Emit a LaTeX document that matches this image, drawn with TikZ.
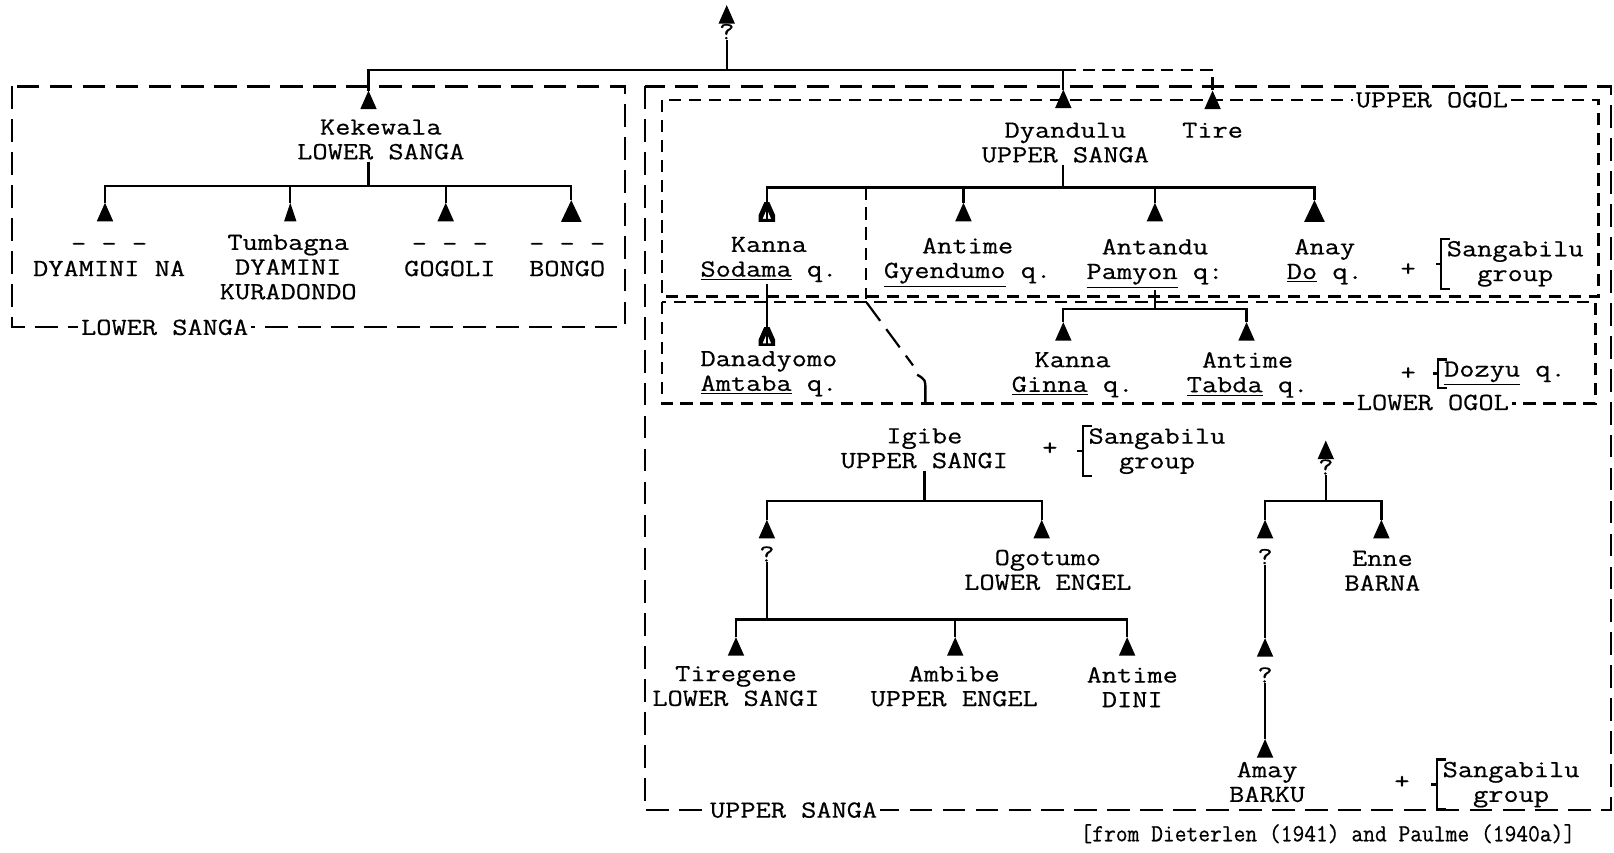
\documentclass[tikz,border=0pt]{standalone}
\usepackage{fontspec}
\newfontfamily\tw[FakeStretch=1.2, FakeBold=0.5]{Latin Modern Mono}
\newfontfamily\twnarrow[FakeStretch=0.93, FakeBold=0.5]{Latin Modern Mono}
\usetikzlibrary{positioning}

\begin{document}
\begin{tikzpicture}[
        x=0.02cm, y=-0.02cm,
        tie/.style={line width=1.3pt},
        bigdash/.style={line width=1.2pt, dash pattern=on 0.44cm off 0.2cm},
        smalldash/.style={line width=1.2pt, dash pattern=on 0.24cm off 0.15cm},
        tri/.style={rectangle, inner sep=0pt, outer sep=0pt, minimum width=0.32cm, minimum height=0.36cm},
        male/.style={tri, path picture={\fill (path picture bounding box.north) -- (path picture bounding box.south east) -- (path picture bounding box.south west) -- cycle;}},
        bigmale/.style={male, minimum width=0.4cm, minimum height=0.42cm},
        thinmale/.style={male, minimum width=0.24cm},
        hollow/.style={tri, path picture={\draw[line width=2.8pt] (path picture bounding box.north) -- (path picture bounding box.south east) -- (path picture bounding box.south west) -- cycle;}},
        person/.style={align=center, anchor=north, inner sep=1pt, font=\tw\fontsize{13.6}{13.66}\selectfont},
        sign/.style={inner sep=0pt, font=\tw\fontsize{13.6}{13.66}\selectfont},
        boxlbl/.style={fill=white, inner sep=1.5pt, font=\tw\fontsize{13.6}{13.66}\selectfont},
        capt/.style={inner sep=0pt, font=\twnarrow\fontsize{13.6}{14}\selectfont}
    ]
        \useasboundingbox (0,0) rectangle (1568,828);

        % Boxes
        \draw[bigdash] (12,84) rectangle (607,318);
        \draw[bigdash] (627,84) rectangle (1565,787);
        \draw[smalldash] (643,97) rectangle (1553,288);
        \draw[smalldash] (643,293) rectangle (1550,392);
        \node[boxlbl] (lsLbl) at (160,318) {LOWER SANGA};
        \node[boxlbl] (usLbl) at (771,787) {UPPER SANGA};
        \node[boxlbl] (uoLbl) at (1391,97) {UPPER OGOL};
        \node[boxlbl] (loLbl) at (1392,391) {LOWER OGOL};

        % Top
        \node[male] (topT) at (706,14) {};
        \node[sign, below=0pt of topT] (topq) {?};
        \coordinate (topbar) at (706,68);

        % Lower Sanga
        \node[male] (kekT) at (358,97) {};
        \node[person] (kek) at (370,114) {Kekewala\\LOWER SANGA};
        \node[male] (dyaT) at (102,206) {};
        \node[thinmale] (tumT) at (282,206) {};
        \node[male] (gogT) at (433,206) {};
        \node[bigmale] (bonT) at (555,205) {};
        \node[person] (dya) at (106,234) {- - -\\DYAMINI NA};
        \node[person] (tum) at (280,226) {Tumbagna\\DYAMINI\\KURADONDO};
        \node[person] (gog) at (437,234) {- - -\\GOGOLI};
        \node[person] (bon) at (551,234) {- - -\\BONGO};

        % Upper Ogol
        \node[male] (dyuT) at (1033,96) {};
        \node[male] (tirT) at (1178,97) {};
        \node[person] (dyu) at (1035,117) {Dyandulu\\UPPER SANGA};
        \node[person] (tir) at (1178,117) {Tire};
        \node[hollow] (kanT) at (745,206) {};
        \node[male] (antT) at (936,206) {};
        \node[male] (tanT) at (1122,206) {};
        \node[bigmale] (anyT) at (1277,205) {};
        \node[person] (kan) at (747,228) {Kanna\\\underline{Sodama} q.};
        \node[person] (ant) at (940,229) {Antime\\\underline{Gyendumo} q.};
        \node[person] (tan) at (1122,230) {Antandu\\\underline{Pamyon} q:};
        \node[person] (any) at (1287,230) {Anay\\\underline{Do} q.};
        \node[sign] (plus1) at (1368,262) {+};
        \node[person] (sg1) at (1472,232) {Sangabilu\\group};

        % Lower Ogol
        \node[hollow] (danT) at (745,327) {};
        \node[male] (ginT) at (1033,322) {};
        \node[male] (tabT) at (1211,322) {};
        \node[person] (dan) at (747,339) {Danadyomo\\\underline{Amtaba} q.};
        \node[person] (gin) at (1042,340) {Kanna\\\underline{Ginna} q.};
        \node[person] (tab) at (1212,340) {Antime\\\underline{Tabda} q.};
        \node[sign] (plus2) at (1368,363) {+};
        \node[person, anchor=center] (doz) at (1462,363) {\underline{Dozyu} q.};

        % Igibe
        \node[person] (igi) at (898,414) {Igibe\\UPPER SANGI};
        \node[sign] (plus3) at (1020,436) {+};
        \node[person] (sg2) at (1124,414) {Sangabilu\\group};
        \node[male] (qT) at (745,514) {};
        \node[sign, below=0.15cm of qT] (q) {?};
        \node[male] (ogoT) at (1012,514) {};
        \node[person] (ogo) at (1018,532) {Ogotumo\\LOWER ENGEL};
        \node[male] (tirgT) at (715,628) {};
        \node[male] (ambT) at (928,628) {};
        \node[male] (dinT) at (1095,628) {};
        \node[person] (tirg) at (715,645) {Tiregene\\LOWER SANGI};
        \node[person] (amb) at (927,645) {Ambibe\\UPPER ENGEL};
        \node[person] (din) at (1100,646) {Antime\\DINI};

        % Barna / Barku
        \node[male] (rtopT) at (1288,437) {};
        \node[sign, below=0pt of rtopT] (rq) {?};
        \node[male] (rqT) at (1229,514) {};
        \node[sign, below=0.2cm of rqT] (rq1) {?};
        \node[male] (enT) at (1342,514) {};
        \node[person] (enn) at (1343,533) {Enne\\BARNA};
        \node[male] (rq2T) at (1229,629) {};
        \node[sign, below=0.2cm of rq2T] (rq2) {?};
        \node[male] (amyT) at (1229,727) {};
        \node[person] (amy) at (1231,738) {Amay\\BARKU};
        \node[sign] (plus4) at (1362,760) {+};
        \node[person] (sg3) at (1468,738) {Sangabilu\\group};

        \node[capt] (src) at (1290,810) {[from Dieterlen (1941) and Paulme (1940a)]};

        % Brackets
        \foreach \g in {sg1,doz,sg2,sg3}
            \draw[tie] ([xshift=3pt]\g.north west) -- ([xshift=-2pt]\g.north west) -- ([xshift=-2pt]\g.south west) -- ([xshift=3pt]\g.south west)
                ([xshift=-2pt]\g.west) -- ([xshift=-5pt]\g.west);

        % Connectors
        \draw[tie] (topq.south) -- (topbar);
        \draw[tie] (kekT.north) |- (topbar) -| (dyuT.north);
        \draw[tie, dash pattern=on 0.24cm off 0.14cm] (dyuT.north |- topbar) -| (tirT.north);

        \coordinate (kekbar) at (358,181);
        \draw[tie] (kek.south -| kekbar) -- (kekbar);
        \draw[tie] (dyaT.north) |- (kekbar) -| (bonT.north);
        \draw[tie] (tumT.north) -- (tumT.north |- kekbar);
        \draw[tie] (gogT.north) -- (gogT.north |- kekbar);

        \coordinate (dyubar) at (1033,182);
        \draw[tie] (dyu.south -| dyubar) -- (dyubar);
        \draw[tie] (kanT.south) |- (dyubar) -| (anyT.north);
        \draw[tie] (antT.north) -- (antT.north |- dyubar);
        \draw[tie] (tanT.north) -- (tanT.north |- dyubar);
        \draw[tie] (kan.south -| kanT) -- (danT.south);

        \coordinate (split) at (841,182);
        \coordinate (igitop) at (899,392);
        \draw[smalldash] (split) -- (841,290);
        \draw[bigdash] (842,294) -- (887,355);
        \draw[tie] (891,364) .. controls (899,369) .. (899,378) -- (igitop);

        \coordinate (tanbar) at (1122,300);
        \draw[tie] (tan.south -| tanbar) -- (tanbar);
        \draw[tie] (ginT.north) |- (tanbar) -| (tabT.north);

        \coordinate (igibar) at (898,487);
        \draw[tie] (igi.south) -- (igibar);
        \draw[tie] (qT.north) |- (igibar) -| (ogoT.north);
        \coordinate (qbar) at (745,602);
        \draw[tie] (q.south) -- (qbar);
        \draw[tie] (tirgT.north) |- (qbar) -| (dinT.north);
        \draw[tie] (ambT.north) -- (ambT.north |- qbar);

        \coordinate (rbar) at (1288,487);
        \draw[tie] (rq.south) -- (rbar);
        \draw[tie] (rqT.north) |- (rbar) -| (enT.north);
        \draw[tie] (rq1.south) -- (rq2T.north);
        \draw[tie] (rq2.south) -- (amyT.north);
    \end{tikzpicture}
\end{document}
